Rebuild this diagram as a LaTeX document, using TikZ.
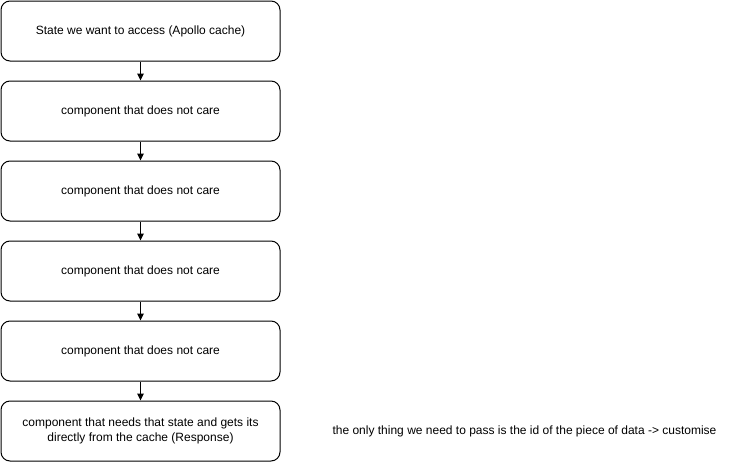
\documentclass[tikz,border=0pt]{standalone}
\usepackage{fontspec}
\setmainfont{Liberation Sans}
\usetikzlibrary{arrows.meta}
\begin{document}
\begin{tikzpicture}[x=1pt,y=-1pt,
  box/.style={draw=black,line width=1pt,rounded corners=9pt,minimum width=279pt,minimum height=60pt,inner sep=0pt,align=center,font=\fontsize{12pt}{14.5pt}\selectfont,anchor=north west},
  conn/.style={draw=black,line width=1pt,-{Triangle[length=7pt,width=6.5pt]}},
  lbl/.style={font=\fontsize{12pt}{14.5pt}\selectfont,inner sep=0pt}]
\useasboundingbox (0,0) rectangle (731,461);
\node[box] (b1) at (0.5,0.5) {State we want to access (Apollo cache)};
\node[box] (b2) at (0.5,80.5) {component that does not care};
\node[box] (b3) at (0.5,160.5) {component that does not care};
\node[box] (b4) at (0.5,240.5) {component that does not care};
\node[box] (b5) at (0.5,320.5) {component that does not care};
\node[box] (b6) at (0.5,400.5) {component that needs that state and gets its\\directly from the cache (Response)};
\draw[conn] (b1.south) -- (b2.north);
\draw[conn] (b2.south) -- (b3.north);
\draw[conn] (b3.south) -- (b4.north);
\draw[conn] (b4.south) -- (b5.north);
\draw[conn] (b5.south) -- (b6.north);
\node[lbl] (note) at (524.5,431) {the only thing we need to pass is the id of the piece of data -> customise};
\end{tikzpicture}
\end{document}
